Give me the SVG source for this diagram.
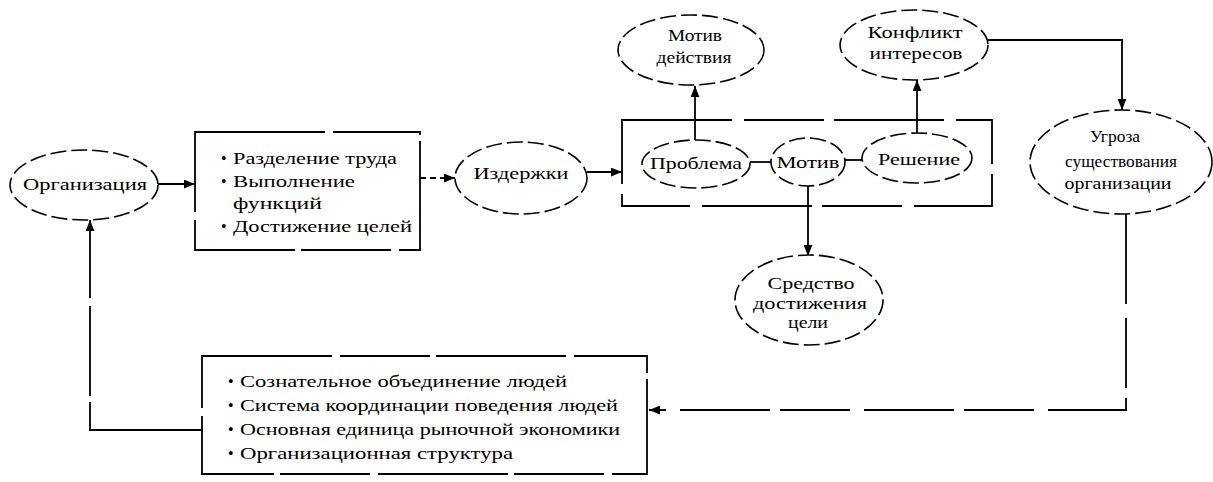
<svg xmlns="http://www.w3.org/2000/svg" width="1213" height="482" viewBox="0 0 1213 482">
  <style>
    .bg { fill: #ffffff; }
    .oval { fill: #ffffff; stroke: #000; stroke-width: 1.6; stroke-dasharray: 16 5; }
    .box { fill: #ffffff; stroke: #000; stroke-width: 1.8; stroke-dasharray: 130 8 90 6; }
    .frame { fill: none; stroke: #000; stroke-width: 1.8; stroke-dasharray: 110 12 80 10; }
    .wire { fill: none; stroke: #000; stroke-width: 1.8; }
    .broken { stroke-dasharray: 90 14 70 10; }
    .gap { stroke-dasharray: 140 6 90 8; }
    .dash { stroke-dasharray: 6 4; }
    .t { font-family: "Liberation Serif", "Times New Roman", serif; font-size: 16px; fill: #000; }
    .c { text-anchor: middle; }
  </style>
  <defs>
    <marker id="arrow" viewBox="0 0 10 8" refX="10" refY="4" markerWidth="11" markerHeight="9" markerUnits="userSpaceOnUse" orient="auto">
      <path d="M0,0 L10,4 L0,8 Z" fill="#000"/>
    </marker>
  </defs>

  <rect class="bg" x="0" y="0" width="1213" height="482"/>

  <!-- connectors -->
  <g id="connectors">
    <path class="wire" d="M158,184 H195" marker-end="url(#arrow)"/>
    <path class="wire dash" d="M420,178 H455" marker-end="url(#arrow)"/>
    <path class="wire" d="M587,172 H622" marker-end="url(#arrow)"/>
    <path class="wire" d="M750,162 H772"/>
    <path class="wire" d="M845,160 H862"/>
    <path class="wire" d="M695,140 V86" marker-end="url(#arrow)"/>
    <path class="wire" d="M917,133 V80" marker-end="url(#arrow)"/>
    <path class="wire" d="M988,40 H1122 V110" marker-end="url(#arrow)"/>
    <path class="wire" d="M808,186 V256" marker-end="url(#arrow)"/>
    <path class="wire broken" d="M1126,214 V410 H649" marker-end="url(#arrow)"/>
    <path class="wire gap" d="M202,430 H90 V220" marker-end="url(#arrow)"/>
  </g>

  <!-- frame around problem / motive / decision -->
  <g id="frame-problem">
    <rect class="frame" x="622" y="120" width="370" height="86"/>
  </g>

  <g id="organization">
    <ellipse class="oval" cx="84" cy="185" rx="74" ry="35"/>
    <text class="t c" x="85" y="190" textLength="124" lengthAdjust="spacingAndGlyphs">Организация</text>
  </g>

  <g id="functions">
    <rect class="box" x="195" y="132" width="225" height="118"/>
    <text class="t" x="221" y="164">•</text>
    <text class="t" x="233" y="164" textLength="164" lengthAdjust="spacingAndGlyphs">Разделение труда</text>
    <text class="t" x="221" y="187">•</text>
    <text class="t" x="233" y="187" textLength="122" lengthAdjust="spacingAndGlyphs">Выполнение</text>
    <text class="t" x="233" y="209" textLength="89" lengthAdjust="spacingAndGlyphs">функций</text>
    <text class="t" x="221" y="232">•</text>
    <text class="t" x="233" y="232" textLength="179" lengthAdjust="spacingAndGlyphs">Достижение целей</text>
  </g>

  <g id="costs">
    <ellipse class="oval" cx="521" cy="178" rx="66" ry="36"/>
    <text class="t c" x="521" y="179" textLength="95" lengthAdjust="spacingAndGlyphs">Издержки</text>
  </g>

  <g id="problem">
    <ellipse class="oval" cx="696" cy="164" rx="54" ry="24"/>
    <text class="t c" x="696" y="169" textLength="92" lengthAdjust="spacingAndGlyphs">Проблема</text>
  </g>

  <g id="motive">
    <ellipse class="oval" cx="808" cy="162" rx="37" ry="24"/>
    <text class="t c" x="808" y="168" textLength="63" lengthAdjust="spacingAndGlyphs">Мотив</text>
  </g>

  <g id="decision">
    <ellipse class="oval" cx="917" cy="158" rx="55" ry="25"/>
    <text class="t c" x="919" y="165" textLength="82" lengthAdjust="spacingAndGlyphs">Решение</text>
  </g>

  <g id="action-motive">
    <ellipse class="oval" cx="691" cy="50" rx="73" ry="35"/>
    <text class="t c" x="695" y="41" textLength="54" lengthAdjust="spacingAndGlyphs">Мотив</text>
    <text class="t c" x="694" y="63" textLength="75" lengthAdjust="spacingAndGlyphs">действия</text>
  </g>

  <g id="conflict">
    <ellipse class="oval" cx="914" cy="45" rx="74" ry="35"/>
    <text class="t c" x="915" y="38" textLength="95" lengthAdjust="spacingAndGlyphs">Конфликт</text>
    <text class="t c" x="916" y="59" textLength="93" lengthAdjust="spacingAndGlyphs">интересов</text>
  </g>

  <g id="threat">
    <ellipse class="oval" cx="1121" cy="162" rx="91" ry="52"/>
    <text class="t c" x="1115" y="142" textLength="50" lengthAdjust="spacingAndGlyphs">Угроза</text>
    <text class="t c" x="1121" y="167" textLength="112" lengthAdjust="spacingAndGlyphs">существования</text>
    <text class="t c" x="1118" y="189" textLength="107" lengthAdjust="spacingAndGlyphs">организации</text>
  </g>

  <g id="means">
    <ellipse class="oval" cx="809" cy="300" rx="74" ry="45"/>
    <text class="t c" x="811" y="289" textLength="87" lengthAdjust="spacingAndGlyphs">Средство</text>
    <text class="t c" x="810" y="309" textLength="114" lengthAdjust="spacingAndGlyphs">достижения</text>
    <text class="t c" x="808" y="328" textLength="40" lengthAdjust="spacingAndGlyphs">цели</text>
  </g>

  <g id="definition">
    <rect class="box" x="202" y="356" width="445" height="118"/>
    <text class="t" x="228" y="387">•</text>
    <text class="t" x="240" y="387" textLength="327" lengthAdjust="spacingAndGlyphs">Сознательное объединение людей</text>
    <text class="t" x="228" y="411">•</text>
    <text class="t" x="240" y="411" textLength="378" lengthAdjust="spacingAndGlyphs">Система координации поведения людей</text>
    <text class="t" x="228" y="435">•</text>
    <text class="t" x="240" y="435" textLength="380" lengthAdjust="spacingAndGlyphs">Основная единица рыночной экономики</text>
    <text class="t" x="228" y="459">•</text>
    <text class="t" x="240" y="459" textLength="273" lengthAdjust="spacingAndGlyphs">Организационная структура</text>
  </g>
</svg>
